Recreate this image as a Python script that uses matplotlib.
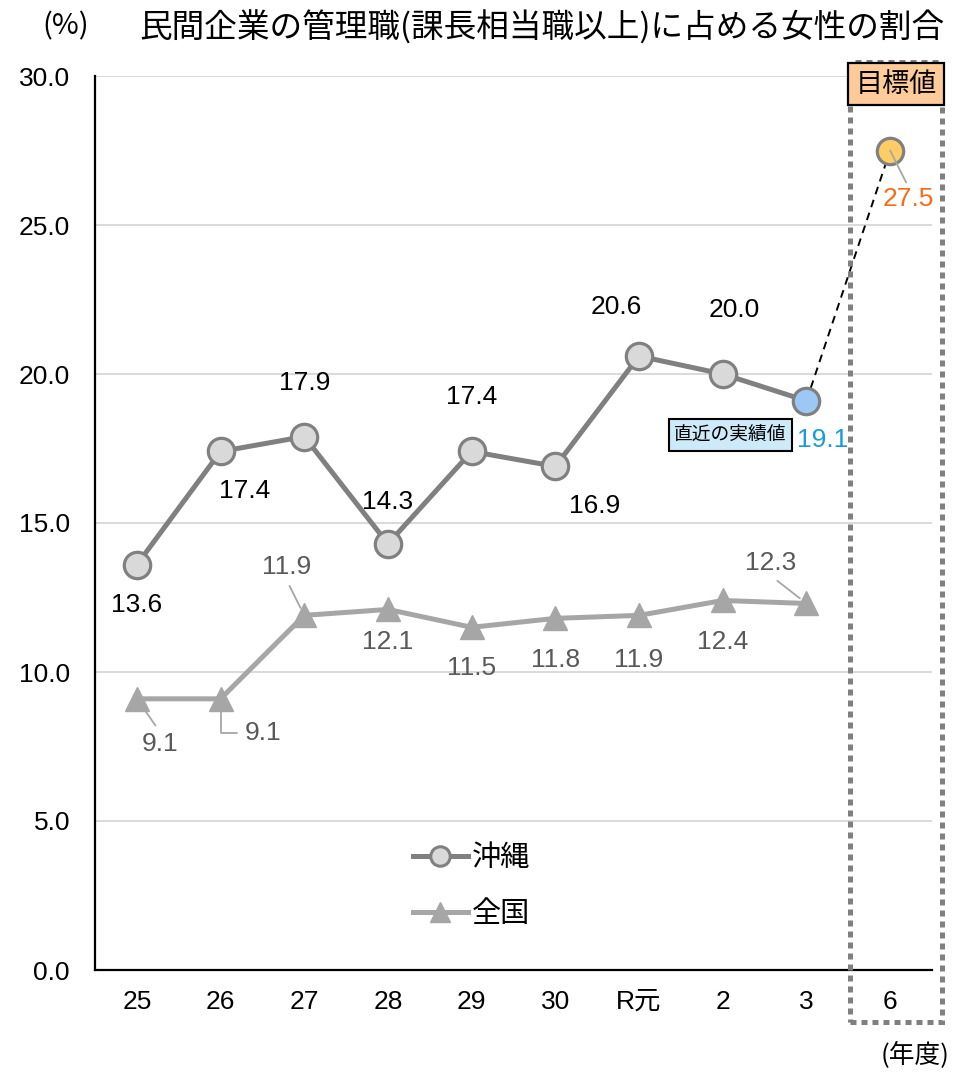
import matplotlib
matplotlib.use("Agg")
import matplotlib.pyplot as plt
from matplotlib.lines import Line2D
from matplotlib.patches import Rectangle

plt.rcParams['font.family'] = ['Liberation Sans', 'Noto Sans CJK JP', 'DejaVu Sans']
JP = ['Noto Sans CJK JP', 'Liberation Sans']

# ---- data ----
years = ['25', '26', '27', '28', '29', '30', 'R元', '2', '3', '6']
okinawa = [13.6, 17.4, 17.9, 14.3, 17.4, 16.9, 20.6, 20.0, 19.1]
national = [9.1, 9.1, 11.9, 12.1, 11.5, 11.8, 11.9, 12.4, 12.3]
target = 27.5
yticks = [0, 5, 10, 15, 20, 25, 30]

# ---- styling ----
C_OKI = '#808080'
C_NAT = '#a6a6a6'
C_OKI_FACE = '#d9d9d9'
C_LATEST = '#9dc8f5'
C_TARGET = '#ffcc66'
NUM_FS = 19


def pt(px):
    return px * 0.72


fig = plt.figure(figsize=(9.55, 10.73), dpi=100)
ax = fig.add_axes([95 / 955, 103 / 1073, 837 / 955, 894 / 1073])

ax.set_xlim(-0.5, 9.5)
ax.set_ylim(0, 30)
ax.set_yticks(yticks)
ax.set_yticklabels([f'{v:.1f}' for v in yticks], fontsize=NUM_FS)
ax.set_xticks(range(len(years)))
ax.set_xticklabels(years, fontsize=NUM_FS)
ax.tick_params(axis='both', length=0)
ax.tick_params(axis='y', pad=pt(25))
ax.tick_params(axis='x', pad=pt(20))
for s in ['top', 'right']:
    ax.spines[s].set_visible(False)
ax.spines['left'].set_linewidth(1.6)
ax.spines['bottom'].set_linewidth(1.6)
ax.set_axisbelow(True)
for v in yticks[1:]:
    ax.axhline(v, color='#d9d9d9', lw=1.4, zorder=0)

xs = list(range(len(okinawa)))

# dashed link from latest value to target
ax.plot([xs[-1], len(okinawa)], [okinawa[-1], target], color='black',
        lw=1.4, ls=(0, (4, 3)), zorder=2)

# national series
ax.plot(xs, national, color=C_NAT, lw=3.6, marker='^', ms=17,
        mfc=C_NAT, mec=C_NAT, zorder=3)

# Okinawa series
ax.plot(xs, okinawa, color=C_OKI, lw=3.6, zorder=3)
ax.plot(xs[:-1], okinawa[:-1], ls='none', marker='o', ms=19,
        mfc=C_OKI_FACE, mec=C_OKI, mew=2.3, zorder=4)
ax.plot([xs[-1]], [okinawa[-1]], ls='none', marker='o', ms=19,
        mfc=C_LATEST, mec=C_OKI, mew=2.3, zorder=4)
ax.plot([len(okinawa)], [target], ls='none', marker='o', ms=19,
        mfc=C_TARGET, mec=C_OKI, mew=2.3, zorder=4)

# Okinawa value labels
oki_off = [(0, -40), (24, -40), (0, 54), (0, 42), (0, 54),
           (39, -40), (-23, 49), (11, 64)]
for i, (v, (dx, dy)) in enumerate(zip(okinawa[:-1], oki_off)):
    ax.annotate(f'{v:.1f}', (i, v), xytext=(pt(dx), pt(dy)),
                textcoords='offset points', ha='center', va='center',
                fontsize=NUM_FS, color='black', zorder=6)
ax.annotate(f'{okinawa[-1]:.1f}', (xs[-1], okinawa[-1]),
            xytext=(pt(16), pt(-39)), textcoords='offset points',
            ha='center', va='center', fontsize=NUM_FS, color='#1a9ad6', zorder=6)
ax.annotate(f'{target:.1f}', (len(okinawa), target),
            xytext=(pt(18), pt(-48)), textcoords='offset points',
            ha='center', va='center', fontsize=NUM_FS, color='#fa6a14', zorder=6,
            arrowprops=dict(arrowstyle='-', color=C_NAT, lw=1.3,
                            relpos=(0.5, 1.0), shrinkA=1, shrinkB=0))

# national value labels
nat_off = [(23, -45), (43, -34), (-18, 48), (0, -33), (0, -41),
           (0, -42), (0, -45), (0, -42), (-36, 40)]
for i, (v, (dx, dy)) in enumerate(zip(national, nat_off)):
    kw = {}
    if i in (0, 2, 8):
        kw['arrowprops'] = dict(arrowstyle='-', color=C_NAT, lw=1.3,
                                relpos=(0.5, 1.0) if dy < 0 else (0.5, 0.0),
                                shrinkA=3, shrinkB=6)
    elif i == 1:
        kw['arrowprops'] = dict(arrowstyle='-', color=C_NAT, lw=1.3,
                                relpos=(0.0, 0.5), shrinkA=4, shrinkB=8,
                                connectionstyle='angle,angleA=0,angleB=90,rad=0')
    ax.annotate(f'{v:.1f}', (i, v), xytext=(pt(dx), pt(dy)),
                textcoords='offset points', ha='center', va='center',
                fontsize=NUM_FS, color='#595959', zorder=6, **kw)

# latest-value tag
ax.annotate('直近の実績値', (xs[-1], okinawa[-1]), xytext=(pt(-76), pt(-34)),
            textcoords='offset points', ha='center', va='center',
            fontsize=13.5, family=JP, zorder=7,
            bbox=dict(boxstyle='square,pad=0.28', fc='#cdeaf9', ec='black', lw=1.5))

# target column frame
frame = Rectangle((755 / 837, -52 / 894), 92 / 837, 960 / 894,
                  transform=ax.transAxes, fill=False, ec=C_OKI, lw=3.6,
                  ls=(0, (1.2, 1.0)), clip_on=False, zorder=5)
ax.add_patch(frame)
ax.text(801 / 837, 886 / 894, '目標値', transform=ax.transAxes,
        ha='center', va='center', fontsize=19.5, family=JP, zorder=8,
        bbox=dict(boxstyle='square,pad=0.28', fc='#ffcc99', ec='black', lw=1.6),
        clip_on=False)

# legend
handles = [
    Line2D([], [], color=C_OKI, lw=3.6, marker='o', ms=14,
           mfc=C_OKI_FACE, mec=C_OKI, mew=2.2),
    Line2D([], [], color=C_NAT, lw=3.6, marker='^', ms=14,
           mfc=C_NAT, mec=C_NAT),
]
leg = ax.legend(handles, ['沖縄', '全国'], loc='center left',
                bbox_to_anchor=(0.362, 0.094), frameon=False,
                prop={'family': JP, 'size': 21}, handlelength=1.9,
                handletextpad=0.15, labelspacing=0.88, borderpad=0)

# titles and units
fig.text(542 / 955, 1 - 28 / 1073, '民間企業の管理職(課長相当職以上)に占める女性の割合',
         ha='center', va='center', fontsize=23.5, family=JP)
fig.text(66 / 955, 1 - 26 / 1073, '(%)', ha='center', va='center',
         fontsize=21, family=JP)
fig.text(915 / 955, 1 - 1055 / 1073, '(年度)', ha='center', va='center',
         fontsize=18.5, family=JP)

fig.savefig('out.png', dpi=100)
